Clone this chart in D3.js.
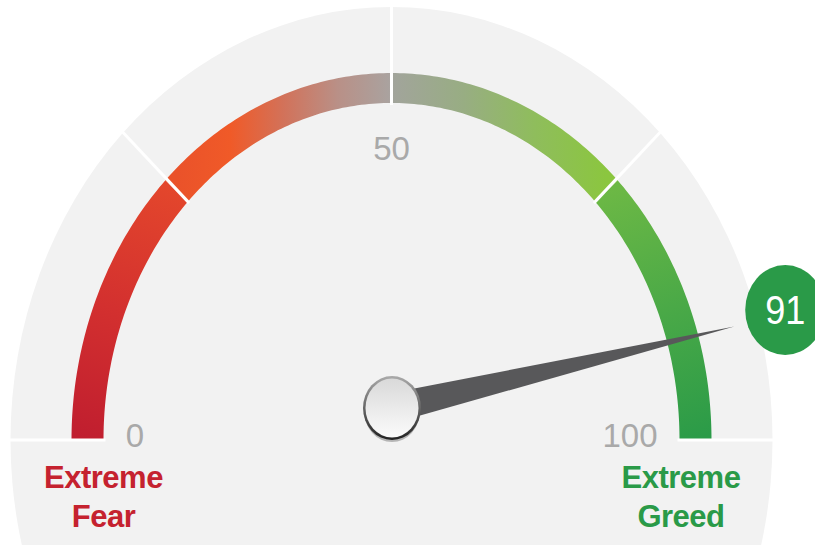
<!DOCTYPE html>
<html>
<head>
<meta charset="utf-8">
<script src="https://cdn.jsdelivr.net/npm/d3@7/dist/d3.min.js"></script>
<style>
  html, body { margin: 0; padding: 0; background: #ffffff; }
  svg { display: block; }
</style>
</head>
<body>
<svg id="chart" width="815" height="545"></svg>
<script>
// ---- data ----
const sectionBounds = [0, 25, 50, 75, 100];
const sectionColors = [
  ["#c01e2f", "#d3302f", "#e3462c"],
  ["#ea522a", "#f05a28", "#d2725a", "#b99087", "#a9a3a0"],
  ["#a2a49c", "#98ad83", "#8fbd5c", "#8bc63f"],
  ["#6cb845", "#4aa947", "#2b9b48"]
];
const tickValues = [0, 50, 100];
const tickLabels = ["0", "50", "100"];
const endLabels = [["Extreme", "Fear"], ["Extreme", "Greed"]];
const endLabelColors = ["#c5222f", "#2a9a48"];
const currentValue = 91;
const valueLabel = "91";

// ---- layout ----
const W = 815, H = 545;
const cx = 391.5, cy = 440;
const svg = d3.select("#chart");
const defs = svg.append("defs");

const angle = d3.scaleLinear().domain([0, 100]).range([Math.PI, 0]);
const pt = (v, rx, ry) => [cx + rx * Math.cos(angle(v)), cy - ry * Math.sin(angle(v))];

// background
svg.append("ellipse").attr("cx", cx).attr("cy", cy).attr("rx", 381).attr("ry", 433).attr("fill", "#f2f2f2");
svg.append("path")
  .attr("d", d3.line()([[cx - 381, cy], [cx + 381, cy], [cx + 359, H], [cx - 359, H]]))
  .attr("fill", "#f2f2f2");

// arc segments
const OUT = [320, 367], IN = [288, 337];
const line = d3.line();
sectionBounds.slice(0, -1).forEach((b0, i) => {
  const b1 = sectionBounds[i + 1];
  const vals = d3.range(0, 61).map(k => b0 + (b1 - b0) * k / 60);
  const pts = vals.map(v => pt(v, OUT[0], OUT[1]))
    .concat(vals.slice().reverse().map(v => pt(v, IN[0], IN[1])));
  const p0 = pt(b0, (OUT[0] + IN[0]) / 2, (OUT[1] + IN[1]) / 2);
  const p1 = pt(b1, (OUT[0] + IN[0]) / 2, (OUT[1] + IN[1]) / 2);
  const g = defs.append("linearGradient").attr("id", "seg" + i)
    .attr("gradientUnits", "userSpaceOnUse")
    .attr("x1", p0[0]).attr("y1", (i === 1 || i === 2) ? cy : p0[1])
    .attr("x2", p1[0]).attr("y2", (i === 1 || i === 2) ? cy : p1[1]);
  const cols = sectionColors[i];
  cols.forEach((c, j) => g.append("stop").attr("offset", j / (cols.length - 1)).attr("stop-color", c));
  svg.append("path").attr("d", line(pts) + "Z").attr("fill", `url(#seg${i})`);
});

// dividers
sectionBounds.forEach(b => {
  const a = pt(b, IN[0] - 2, IN[1] - 2), z = pt(b, 420, 478);
  svg.append("line").attr("x1", a[0]).attr("y1", a[1]).attr("x2", z[0]).attr("y2", z[1])
    .attr("stroke", "#ffffff").attr("stroke-width", 3);
});

// tick labels
const tickPos = [[135, 447], [391.5, 160], [630, 447]];
tickValues.forEach((t, i) => {
  svg.append("text").attr("x", tickPos[i][0]).attr("y", tickPos[i][1])
    .attr("text-anchor", "middle").attr("font-family", "Liberation Sans, Arial, sans-serif")
    .attr("font-size", 33).attr("fill", "#a9a9a9").text(tickLabels[i]);
});

// end labels
const endX = [103.5, 681];
endLabels.forEach((lines, i) => {
  lines.forEach((s, j) => {
    svg.append("text").attr("x", endX[i]).attr("y", 488 + j * 39)
      .attr("text-anchor", "middle").attr("font-family", "Liberation Sans, Arial, sans-serif")
      .attr("font-weight", "bold").attr("font-size", 31).attr("letter-spacing", -0.5)
      .attr("fill", endLabelColors[i]).text(s);
  });
});

// needle
const hub = [392, 408];
const tip = pt(currentValue, 357, 407);
const dx = tip[0] - hub[0], dy = tip[1] - hub[1];
const len = Math.hypot(dx, dy);
const nx = -dy / len, ny = dx / len, hw = 15;
svg.append("path")
  .attr("d", line([tip, [hub[0] + nx * hw, hub[1] + ny * hw], [hub[0] - nx * hw, hub[1] - ny * hw]]) + "Z")
  .attr("fill", "#58585a");

// hub
const hubGrad = defs.append("linearGradient").attr("id", "hubGrad").attr("x1", 0).attr("y1", 0).attr("x2", 0).attr("y2", 1);
hubGrad.append("stop").attr("offset", 0).attr("stop-color", "#d9d9d9");
hubGrad.append("stop").attr("offset", 1).attr("stop-color", "#fbfbfb");
const rimGrad = defs.append("linearGradient").attr("id", "rimGrad").attr("x1", 0).attr("y1", 0).attr("x2", 0).attr("y2", 1);
rimGrad.append("stop").attr("offset", 0).attr("stop-color", "#aaaaaa");
rimGrad.append("stop").attr("offset", 1).attr("stop-color", "#222222");
svg.append("ellipse").attr("cx", hub[0]).attr("cy", hub[1] + 3).attr("rx", 28).attr("ry", 31).attr("fill", "#000").attr("opacity", 0.25);
svg.append("ellipse").attr("cx", hub[0]).attr("cy", hub[1]).attr("rx", 29).attr("ry", 32).attr("fill", "url(#rimGrad)");
svg.append("ellipse").attr("cx", hub[0]).attr("cy", hub[1]).attr("rx", 26.5).attr("ry", 29.5).attr("fill", "url(#hubGrad)");

// value bubble
const bp = pt(currentValue, 410, 466);
svg.append("ellipse").attr("cx", bp[0]).attr("cy", bp[1]).attr("rx", 40).attr("ry", 45).attr("fill", "#2a9a48");
svg.append("text")
  .attr("transform", `translate(${bp[0]},${bp[1] + 14}) scale(0.88,1)`)
  .attr("text-anchor", "middle").attr("font-family", "Liberation Sans, Arial, sans-serif")
  .attr("font-size", 41).attr("fill", "#ffffff").text(valueLabel);
</script>
</body>
</html>
